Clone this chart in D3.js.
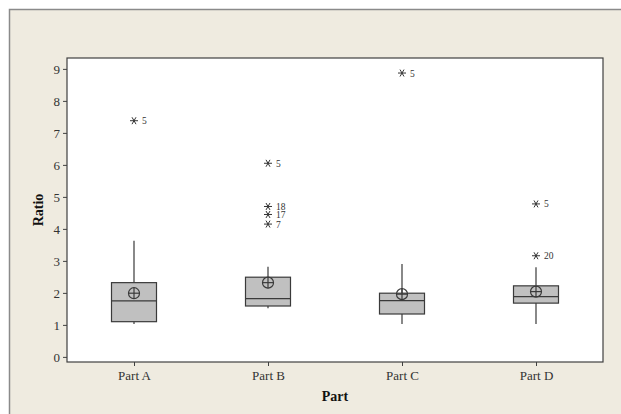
<!DOCTYPE html>
<html><head><meta charset="utf-8">
<script src="https://cdn.jsdelivr.net/npm/d3@7"></script>
<style>body{margin:0;background:#fff;}svg{display:block;}</style>
</head><body>
<svg id="c" width="621" height="414"></svg>
<script>
const categories = ["Part A", "Part B", "Part C", "Part D"];
const q1 =        [1.10, 1.59, 1.34, 1.68];
const median =    [1.75, 1.82, 1.76, 1.88];
const q3 =        [2.32, 2.49, 1.99, 2.22];
const mean =      [1.99, 2.32, 1.96, 2.04];
const whiskerLo = [1.03, 1.52, 1.03, 1.03];
const whiskerHi = [3.63, 2.82, 2.90, 2.80];
const outlierCat =   ["Part A", "Part B", "Part B", "Part B", "Part B", "Part C", "Part D", "Part D"];
const outlierVal =   [7.38, 6.05, 4.70, 4.45, 4.15, 8.87, 4.78, 3.16];
const outlierLabel = ["5", "5", "18", "17", "7", "5", "5", "20"];
const yTicks = [0,1,2,3,4,5,6,7,8,9];

const svg = d3.select("#c");
const L = 67, R = 603, T = 58, B = 362;
svg.append("rect").attr("x",9.5).attr("y",9.5).attr("width",640).attr("height",440)
  .attr("fill","#efebe0").attr("stroke","#8a8a8a").attr("stroke-width",1.5);
svg.append("rect").attr("x",L).attr("y",T).attr("width",R-L).attr("height",B-T)
  .attr("fill","#fff").attr("stroke","#404040").attr("stroke-width",1.2);

const x = d3.scalePoint().domain(categories).range([L,R]).padding(0.5);
const y = d3.scaleLinear().domain([-0.16, 9.34]).range([B,T]);

const font = "'Liberation Serif','Times New Roman',serif";
const yAxis = svg.append("g").attr("transform",`translate(${L},0)`)
  .call(d3.axisLeft(y).tickValues(yTicks).tickSize(4).tickPadding(3));
const xAxis = svg.append("g").attr("transform",`translate(0,${B})`)
  .call(d3.axisBottom(x).tickSize(4).tickPadding(5));
[yAxis,xAxis].forEach(a=>{
  a.select(".domain").remove();
  a.selectAll("line").attr("stroke","#404040");
  a.selectAll("text").attr("font-family",font).attr("font-size",13).attr("fill","#333");
});

svg.append("text").attr("transform",`translate(43,${(T+B)/2}) rotate(-90)`)
  .attr("text-anchor","middle").attr("font-family",font).attr("font-weight","bold")
  .attr("font-size",14).attr("fill","#111").text("Ratio");
svg.append("text").attr("x",(L+R)/2).attr("y",401).attr("text-anchor","middle")
  .attr("font-family",font).attr("font-weight","bold").attr("font-size",14)
  .attr("fill","#111").text("Part");

const bw = 45;
const g = svg.append("g").attr("stroke","#3a3a3a").attr("stroke-width",1.2);
categories.forEach((c,i)=>{
  const cx = x(c);
  g.append("line").attr("x1",cx).attr("x2",cx).attr("y1",y(whiskerHi[i])).attr("y2",y(q3[i]));
  g.append("line").attr("x1",cx).attr("x2",cx).attr("y1",y(q1[i])).attr("y2",y(whiskerLo[i]));
  g.append("rect").attr("x",cx-bw/2).attr("width",bw).attr("y",y(q3[i]))
    .attr("height",y(q1[i])-y(q3[i])).attr("fill","#c0c0c0");
  g.append("line").attr("x1",cx-bw/2).attr("x2",cx+bw/2).attr("y1",y(median[i])).attr("y2",y(median[i]));
  const my = y(mean[i]), r = 5.5;
  g.append("circle").attr("cx",cx).attr("cy",my).attr("r",r).attr("fill","none");
  g.append("line").attr("x1",cx-r).attr("x2",cx+r).attr("y1",my).attr("y2",my);
  g.append("line").attr("x1",cx).attr("x2",cx).attr("y1",my-r).attr("y2",my+r);
});

outlierVal.forEach((v,i)=>{
  const cx = x(outlierCat[i]), cy = y(v), s = 4;
  const og = svg.append("g").attr("stroke","#333").attr("stroke-width",1);
  [0,60,120].forEach(a=>{
    const rad = a*Math.PI/180;
    og.append("line").attr("x1",cx-s*Math.cos(rad)).attr("y1",cy-s*Math.sin(rad))
      .attr("x2",cx+s*Math.cos(rad)).attr("y2",cy+s*Math.sin(rad));
  });
  svg.append("text").attr("x",cx+8).attr("y",cy+3.5).attr("font-family",font)
    .attr("font-size",9.5).attr("fill","#333").text(outlierLabel[i]);
});
</script>
</body></html>
